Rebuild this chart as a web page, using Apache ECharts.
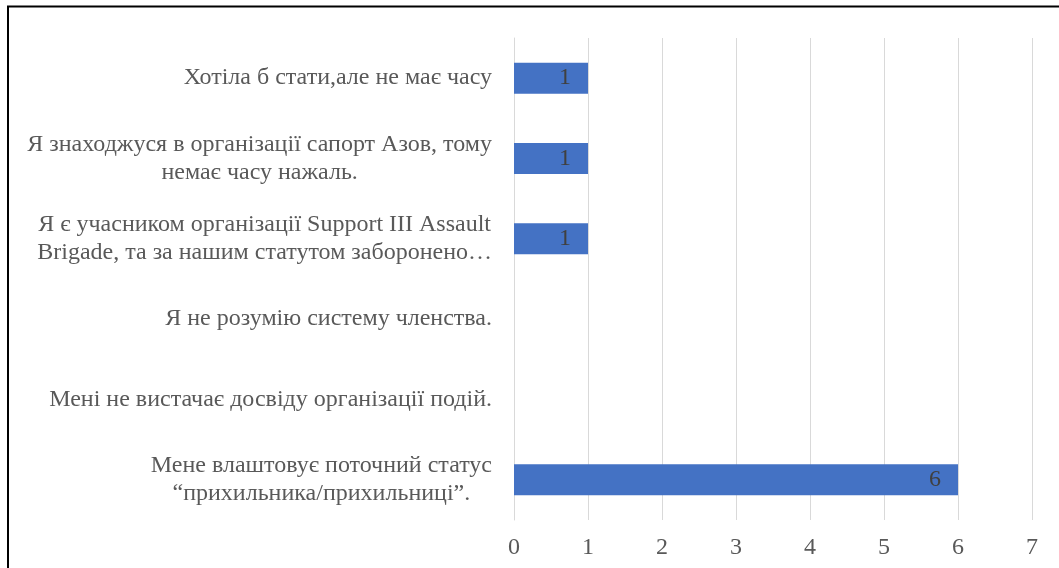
<!DOCTYPE html>
<html>
<head>
<meta charset="utf-8">
<script src="https://cdn.jsdelivr.net/npm/echarts@6/dist/echarts.min.js"></script>
<style>
  html, body { margin: 0; padding: 0; background: #ffffff; }
  #chart { width: 1059px; height: 568px; }
</style>
</head>
<body>
<div id="chart"></div>
<script>
// Reasons given for not becoming a member (top to bottom)
const categories = [
  'Хотіла б стати,але не має часу',
  'Я знаходжуся в організації сапорт Азов, тому\nнемає часу нажаль.',
  'Я є учасником організації Support III Assault\nBrigade, та за нашим статутом заборонено…',
  'Я не розумію систему членства.',
  'Мені не вистачає досвіду організації подій.',
  'Мене влаштовує поточний статус\n“прихильника/прихильниці”.'
];
const counts = [1, 1, 1, 0, 0, 6];
const xTicks = [0, 1, 2, 3, 4, 5, 6, 7];

const FONT = '"Liberation Serif", "Times New Roman", serif';
const chart = echarts.init(document.getElementById('chart'), null, { renderer: 'canvas' });

chart.setOption({
  animation: false,
  backgroundColor: '#ffffff',
  graphic: [{
    type: 'rect',
    shape: { x: 8, y: 6.5, width: 1100, height: 620 },
    style: { fill: 'none', stroke: '#000000', lineWidth: 2 },
    silent: true
  }],
  grid: { left: 514, right: 27, top: 38, bottom: 48, containLabel: false },
  xAxis: {
    type: 'value',
    min: xTicks[0],
    max: xTicks[xTicks.length - 1],
    interval: 1,
    axisLine: { show: false },
    axisTick: { show: false },
    splitLine: { show: true, lineStyle: { color: '#d9d9d9', width: 1 } },
    axisLabel: { fontFamily: FONT, fontSize: 24, color: '#595959', margin: 16 }
  },
  yAxis: {
    type: 'category',
    inverse: true,
    data: categories,
    axisLine: { show: true, lineStyle: { color: '#d9d9d9', width: 1 } },
    axisTick: { show: false },
    axisLabel: {
      margin: 22,
      fontFamily: FONT,
      fontSize: 24,
      color: '#595959',
      lineHeight: 28,
      formatter: function (v) {
        return v.split('\n').map(function (s) { return '{c|' + s + '}'; }).join('\n');
      },
      rich: {
        c: { align: 'center', fontFamily: FONT, fontSize: 24, color: '#595959', lineHeight: 28 }
      }
    }
  },
  series: [{
    type: 'bar',
    data: counts,
    barWidth: 31,
    itemStyle: { color: '#4472c4' },
    label: {
      show: true,
      position: 'insideRight',
      distance: 17,
      fontFamily: FONT,
      fontSize: 24,
      color: '#404040',
      formatter: function (p) { return p.value === 0 ? '' : String(p.value); }
    }
  }]
});
</script>
</body>
</html>
